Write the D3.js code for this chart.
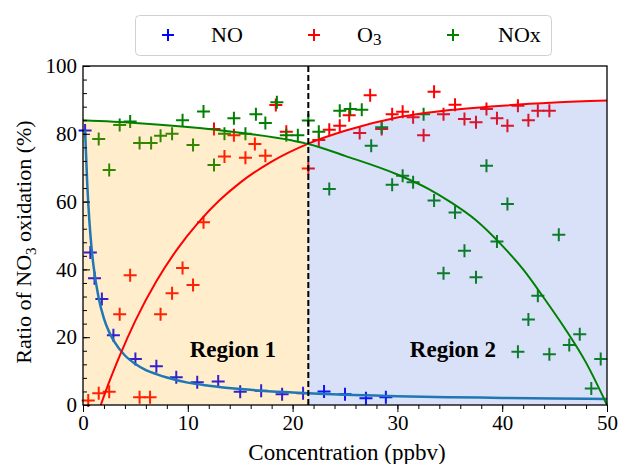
<!DOCTYPE html>
<html>
<head>
<meta charset="utf-8">
<script src="https://cdn.jsdelivr.net/npm/d3@7/dist/d3.min.js"></script>
<style>
  body { margin: 0; background: #fff; }
  svg text { font-family: "Liberation Serif", "Times New Roman", Times, "DejaVu Serif", serif; }
</style>
</head>
<body>
<div id="chart"></div>
<script>
// scatter data
var noX  = [0.2, 0.7, 1.1, 1.8, 2.9, 5, 7, 8.9, 10.9, 12.9, 15, 17, 19, 21, 23, 25, 27, 28.9];
var noY  = [81, 45, 37.4, 31.3, 20.6, 13.6, 11.4, 8.2, 6.7, 6.9, 3.9, 4.2, 3.2, 3.5, 4, 3.2, 2, 2.3];

var o3X  = [0.5, 1.5, 2.5, 3.5, 4.5, 5.4, 6.4, 7.4, 8.5, 9.5, 10.5, 11.5, 12.5, 13.5, 14.4, 15.5, 16.4, 17.4, 18.4, 19.4,
            21.5, 22.5, 23.5, 24.5, 25.4, 26.4, 27.4, 28.5, 29.5, 30.5, 31.5, 32.5, 33.5, 34.4, 35.5, 36.4, 37.5, 38.5,
            39.5, 40.5, 41.5, 42.5, 43.4, 44.5];
var o3Y  = [1.3, 3.5, 3.9, 26.8, 38.3, 2.3, 2.3, 26.8, 33, 40.4, 35.4, 53.9, 81.4, 73.3, 79.6, 72.9, 77, 73.5, 88.5, 80.6,
            69.8, 78.2, 81.2, 82.4, 85.5, 80.2, 91.4, 81.4, 85.8, 86.5, 84.9, 79.6, 92.4, 85.8, 88.6, 84.4, 83.4, 87.3,
            84.6, 82.4, 88.3, 84, 86.8, 86.8];

var noxX = [1.5, 2.5, 3.5, 4.5, 5.4, 6.5, 7.4, 8.5, 9.5, 10.5, 11.5, 12.5, 13.5, 14.4, 15.5, 16.5, 17.4, 18.5, 19.4, 20.5,
            21.5, 22.5, 23.5, 24.5, 25.5, 26.6, 27.5, 28.5, 29.5, 30.5, 31.5, 32.5, 33.5, 34.4, 35.5, 36.4, 37.5, 38.5,
            39.5, 40.5, 41.5, 42.5, 43.4, 44.5, 45.4, 46.4, 47.4, 48.5, 49.4];
var noxY = [78.5, 69.3, 82.6, 83.6, 77.3, 77.3, 79.4, 80, 84, 76.7, 86.6, 70.8, 80, 84.6, 80, 85.8, 83.2, 89.3, 79.6, 79.6,
            83.9, 80.6, 63.7, 86.8, 87.3, 87.1, 76.5, 81.9, 65, 67.6, 65.7, 85.8, 60.3, 38.9, 56.8, 45.5, 37.7, 70.6,
            48.2, 59.3, 15.7, 25.2, 32.2, 15, 50.2, 17.7, 20.9, 4.9, 13.6];

// fitted curves
var noFitX  = [0.2, 0.4, 0.6, 0.8, 1, 1.5, 2, 2.5, 3, 4, 5, 6, 7, 8, 10, 12, 15, 20, 25, 30, 35, 40, 45, 50];
var noFitY  = [81, 65.5, 54.7, 46.9, 41.1, 31.5, 25.5, 21.5, 18.6, 14.6, 12.1, 10.3, 9.1, 8.1, 6.6, 5.7, 4.7, 3.7, 3, 2.6, 2.3, 2.1, 1.9, 1.8];
var o3FitX  = [1.7, 2.5, 3.5, 5, 7, 9, 11, 13, 15, 18, 21.5, 25, 30, 35, 40, 45, 50];
var o3FitY  = [0, 6.8, 14.5, 24.9, 36.5, 46, 53.8, 60.3, 65.6, 71.8, 77.1, 80.9, 84.8, 87, 88.3, 89.2, 89.8];
var noxFitX = [0, 5, 10, 15, 20, 21.5, 25, 30, 33, 35, 37.5, 40, 42, 44, 46, 48, 50];
var noxFitY = [84, 83.2, 82, 80.3, 78, 77, 73.5, 68, 63.7, 60, 54.5, 47, 40, 31.5, 22.5, 12.5, 0];

var xTicks = [0, 10, 20, 30, 40, 50];
var yTicks = [0, 20, 40, 60, 80, 100];
var splitX = 21.5;

var width = 618, height = 464;
var mLeft = 83, mRight = 607, mTop = 66, mBottom = 405;
var serif = "'Liberation Serif', 'Times New Roman', Times, 'DejaVu Serif', serif";

var svg = d3.select("#chart").append("svg")
    .attr("width", width)
    .attr("height", height)
    .attr("font-family", serif);

var x = d3.scaleLinear().domain([0, 50]).range([mLeft, mRight]);
var y = d3.scaleLinear().domain([0, 100]).range([mBottom, mTop]);

function zip(xs, ys) { return xs.map(function(v, i) { return [v, ys[i]]; }); }

var noPts = zip(noX, noY), o3Pts = zip(o3X, o3Y), noxPts = zip(noxX, noxY);
var noFit = zip(noFitX, noFitY), o3Fit = zip(o3FitX, o3FitY), noxFit = zip(noxFitX, noxFitY);

var plot = svg.append("g");

// crosses
function crosses(pts, color, size) {
  var g = plot.append("g").attr("stroke", color).attr("stroke-width", 2);
  g.selectAll("path").data(pts).enter().append("path")
    .attr("d", function(d) {
      var cx = x(d[0]), cy = y(d[1]), h = size / 2;
      return "M" + (cx - h) + "," + cy + "H" + (cx + h) + "M" + cx + "," + (cy - h) + "V" + (cy + h);
    });
}
crosses(noPts, "#0000ff", 13);
crosses(o3Pts, "#ff0000", 13);
crosses(noxPts, "#008000", 13);

// shaded regions under the upper curve
var line = d3.line().x(function(d) { return x(d[0]); }).y(function(d) { return y(d[1]); })
    .curve(d3.curveMonotoneX);

function interp(pts, xv) {
  for (var i = 1; i < pts.length; i++) {
    if (xv <= pts[i][0]) {
      var t = (xv - pts[i - 1][0]) / (pts[i][0] - pts[i - 1][0]);
      return pts[i - 1][1] + t * (pts[i][1] - pts[i - 1][1]);
    }
  }
  return pts[pts.length - 1][1];
}

var area = d3.area().x(function(d) { return x(d[0]); })
    .y0(y(0)).y1(function(d) { return y(d[1]); })
    .curve(d3.curveMonotoneX);

var reg1 = noxFit.filter(function(d) { return d[0] < splitX; });
reg1.push([splitX, interp(noxFit, splitX)]);
var reg2 = [[splitX, interp(o3Fit, splitX)]].concat(o3Fit.filter(function(d) { return d[0] > splitX; }));

plot.append("path").datum(reg1).attr("d", area)
    .attr("fill", "#ffa500").attr("fill-opacity", 0.2);
plot.append("path").datum(reg2).attr("d", area)
    .attr("fill", "#4169e1").attr("fill-opacity", 0.2);

// fit lines
plot.append("path").datum(noFit).attr("d", line)
    .attr("fill", "none").attr("stroke", "#1f77b4").attr("stroke-width", 2.5);
plot.append("path").datum(o3Fit).attr("d", line)
    .attr("fill", "none").attr("stroke", "#ff0000").attr("stroke-width", 2);
plot.append("path").datum(noxFit).attr("d", line)
    .attr("fill", "none").attr("stroke", "#008000").attr("stroke-width", 2);

// dashed split line
plot.append("line")
    .attr("x1", x(splitX)).attr("x2", x(splitX))
    .attr("y1", y(0)).attr("y2", y(100))
    .attr("stroke", "#000").attr("stroke-width", 2)
    .attr("stroke-dasharray", "6,3");

// region labels
svg.append("text").attr("x", x(14.3)).attr("y", 357)
    .attr("text-anchor", "middle").attr("font-weight", "bold").attr("font-size", 23)
    .text("Region 1");
svg.append("text").attr("x", x(35.3)).attr("y", 357)
    .attr("text-anchor", "middle").attr("font-weight", "bold").attr("font-size", 23)
    .text("Region 2");

// axes
var xMinor = svg.append("g").attr("transform", "translate(0," + mBottom + ")")
    .call(d3.axisBottom(x).tickValues(d3.range(0, 51, 2)).tickSize(4).tickFormat(""));
xMinor.select(".domain").remove();
var xMajor = svg.append("g").attr("transform", "translate(0," + mBottom + ")")
    .call(d3.axisBottom(x).tickValues(xTicks).tickSize(7).tickPadding(3));
xMajor.select(".domain").remove();
xMajor.attr("font-family", serif);
xMajor.selectAll("text").attr("font-size", 21).attr("fill", "#000");

var yMinor = svg.append("g").attr("transform", "translate(" + mLeft + ",0)")
    .call(d3.axisLeft(y).tickValues(d3.range(0, 101, 4)).tickSize(-4).tickFormat(""));
yMinor.select(".domain").remove();
var yMajor = svg.append("g").attr("transform", "translate(" + mLeft + ",0)")
    .call(d3.axisLeft(y).tickValues(yTicks).tickSize(-7));
yMajor.select(".domain").remove();
yMajor.attr("font-family", serif);
yMajor.selectAll("text").attr("font-size", 21).attr("fill", "#000").attr("x", -6);

svg.append("rect")
    .attr("x", mLeft).attr("y", mTop)
    .attr("width", mRight - mLeft).attr("height", mBottom - mTop)
    .attr("fill", "none").attr("stroke", "#000").attr("stroke-width", 1.3);

// axis titles
svg.append("text").attr("x", (mLeft + mRight) / 2 + 2).attr("y", 460)
    .attr("text-anchor", "middle").attr("font-size", 23)
    .text("Concentration (ppbv)");

var yl = svg.append("text")
    .attr("transform", "translate(31,242) rotate(-90)")
    .attr("text-anchor", "middle").attr("font-size", 22);
yl.append("tspan").text("Ratio of NO");
yl.append("tspan").attr("font-size", 15).attr("dy", 5).text("3");
yl.append("tspan").attr("dy", -5).text(" oxidation (%)");

// legend
var legend = svg.append("g");
legend.append("rect").attr("x", 135.5).attr("y", 15.5).attr("width", 416).attr("height", 40)
    .attr("rx", 4).attr("fill", "#fff").attr("stroke", "#d0d0d0").attr("stroke-width", 1);

var legItems = [
  { name: "NO", color: "#0000ff", mx: 168, tx: 211 },
  { name: "O", sub: "3", color: "#ff0000", mx: 314, tx: 357 },
  { name: "NOx", color: "#008000", mx: 453, tx: 498 }
];
legItems.forEach(function(d) {
  legend.append("path")
    .attr("d", "M" + (d.mx - 6) + ",35H" + (d.mx + 6) + "M" + d.mx + ",29V41")
    .attr("stroke", d.color).attr("stroke-width", 2);
  var t = legend.append("text").attr("x", d.tx).attr("y", 42).attr("font-size", 22);
  t.append("tspan").text(d.name);
  if (d.sub) t.append("tspan").attr("font-size", 17).attr("dy", 3).text(d.sub);
});
</script>
</body>
</html>
